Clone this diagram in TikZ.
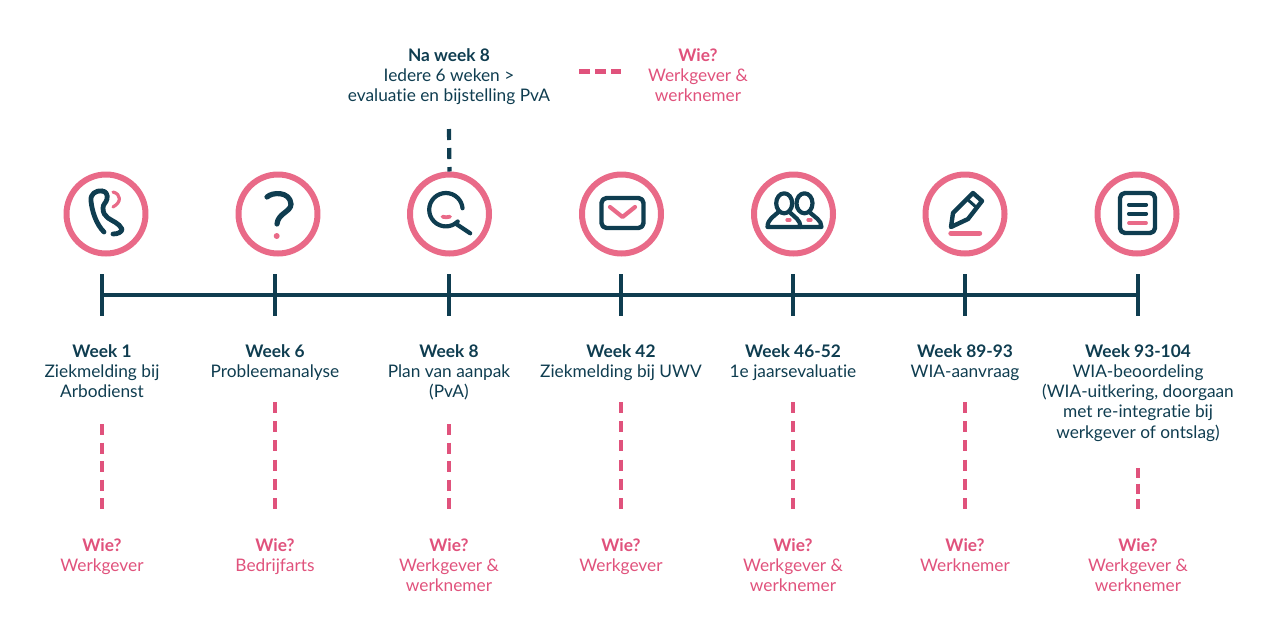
\documentclass[tikz,border=0pt]{standalone}
\usepackage{fontspec}
\setmainfont[Ligatures=NoCommon]{Lato}
\usetikzlibrary{calc,positioning}
\definecolor{navy}{HTML}{0F3D50}
\definecolor{rose}{HTML}{E0527C}
\definecolor{ring}{HTML}{E96A88}
\tikzset{
  timeline/.style={x=1pt,y=-1pt,line cap=butt,line join=round},
  ringnode/.style={circle,draw=ring,line width=6pt,minimum size=79pt,inner sep=0pt},
  weektext/.style={anchor=north,align=center,text=navy,font=\fontsize{17.3}{20.3}\selectfont,inner sep=0pt},
  whotext/.style={anchor=north,align=center,text=rose,font=\fontsize{17.3}{20.3}\selectfont,inner sep=0pt},
  axisline/.style={draw=navy,line width=3.2pt},
  pinkdash/.style={draw=rose,line width=4.2pt},
  navydash/.style={draw=navy,line width=4.2pt,dash pattern=on 11pt off 8pt},
  iconline/.style={draw=navy,line width=4.2pt,line cap=round,line join=round},
  iconpink/.style={draw=ring,line width=3.8pt,line cap=round,line join=round}
}
\begin{document}
\begin{tikzpicture}[timeline]
  \useasboundingbox (0,0) rectangle (1280,633);
  % axis
  \coordinate (T1) at (102,295);
  \coordinate (T2) at (275,295);
  \coordinate (T3) at (449,295);
  \coordinate (T4) at (621,295);
  \coordinate (T5) at (793,295);
  \coordinate (T6) at (965,295);
  \coordinate (T7) at (1138,295);
  \draw[axisline] (T1)--(T7);
  \foreach \t in {T1,T2,T3,T4,T5,T6,T7}{
    \draw[axisline] ($(\t)+(0,-21)$)--($(\t)+(0,21)$);
  }
  % rings
  \node[ringnode] (phone) at (106,214) {};
  \node[ringnode] (ask) at (278,214) {};
  \node[ringnode] (search) at (449.5,214) {};
  \node[ringnode] (mail) at (621.5,214) {};
  \node[ringnode] (people) at (793.5,214) {};
  \node[ringnode] (pen) at (965,214) {};
  \node[ringnode] (doc) at (1137,214) {};
  % icon shapes
  \begin{scope}[shift={(106,214)}]
    \draw[iconline,line width=4.8pt] (-4,-23) .. controls (-10,-24) and (-16,-20) .. (-15,-13)
      .. controls (-14,-3) and (-10,10) .. (-2,18);
    \draw[iconline,line width=4.8pt] (-4,-23) .. controls (0,-23) and (2,-19) .. (1,-15)
      .. controls (0,-11) and (-3,-10) .. (-3,-6) .. controls (-3,-1) and (-1,2) .. (2,4)
      .. controls (6,7) and (13,9) .. (16,15) .. controls (16,18) and (12,20) .. (7,20);
    \draw[iconpink,line width=3.2pt] (7,-22) .. controls (15,-20) and (16,-12) .. (7,-7);
  \end{scope}
  \begin{scope}[shift={(278,214)}]
    \draw[iconline,line width=5.2pt] (-11,-17) .. controls (-6,-22) and (12,-23) .. (13,-10)
      .. controls (13,-2) and (0,-1) .. (-1,10);
    \fill[ring] (-1.3,22) circle (3pt);
  \end{scope}
  \begin{scope}[shift={(449.5,214)}]
    \draw[iconline] (8.2,7.5) arc[start angle=45,end angle=355,radius=16.7];
    \draw[iconline] (6,9.5) -- (20.7,19.3);
    \draw[iconpink] (-7,2.7) .. controls (-5,3.5) and (-2,3.5) .. (0.5,2.7);
  \end{scope}
  \begin{scope}[shift={(621.5,214)}]
    \draw[iconline,line width=4.4pt,rounded corners=5pt] (-20,-16) rectangle (22,14);
    \draw[iconpink,line width=4.2pt] (-11.5,-7) -- (1,3) -- (13.5,-7);
  \end{scope}
  \begin{scope}[shift={(793.5,214)}]
    \draw[iconline] (-9.3,-10.7) ellipse[x radius=8,y radius=10];
    \draw[iconline] (11,-10.7) ellipse[x radius=8,y radius=10];
    \draw[iconline] (-15,-2) .. controls (-19,2) and (-26,5) .. (-26,13) -- (7,13)
      .. controls (7,6) and (1,3) .. (-3,-1);
    \draw[iconline] (7,13) -- (28,13) .. controls (28,6) and (21,3) .. (17,-1);
    \draw[iconpink,line width=3.2pt] (-6.5,6) -- (-3.5,6);
    \draw[iconpink,line width=3.2pt] (14.5,6) -- (17.5,6);
  \end{scope}
  \begin{scope}[shift={(965,214)}]
    \draw[iconline,line width=4.4pt] (-14,13) -- (-12,-1) -- (8,-21) -- (17,-13) -- (3,5) -- cycle;
    \draw[iconline,line width=3pt] (2,-15) -- (11,-7);
    \draw[iconpink,line width=5.4pt] (-14,19.3) -- (14.5,19.3);
  \end{scope}
  \begin{scope}[shift={(1137,214)}]
    \draw[iconline,line width=4.4pt,rounded corners=5pt] (-17,-21) rectangle (18,19);
    \draw[iconline] (-8,-9.3) -- (9,-9.3);
    \draw[iconline] (-8,-0.3) -- (9,-0.3);
    \draw[iconpink] (-8,9) -- (9,9);
  \end{scope}
  % top note
  \node[weektext] (note) at (449,48) {\textbf{Na week 8}\\Iedere 6 weken >\\evaluatie en bijstelling PvA};
  \node[whotext] (notewho) at (698,48) {\textbf{Wie?}\\Werkgever \&\\werknemer};
  \coordinate (keyA) at (579,71.5);
  \coordinate (keyB) at (621,71.5);
  \coordinate (noteend) at (449,129);
  \draw[pinkdash,dash pattern=on 10.5pt off 5.5pt] (keyA)--(keyB);
  \draw[navydash] (noteend)--(search.north);
  % week labels
  \node[weektext] (w1) at (102,344) {\textbf{Week 1}\\Ziekmelding bij\\Arbodienst};
  \node[weektext] (w2) at (275,344) {\textbf{Week 6}\\Probleemanalyse};
  \node[weektext] (w3) at (449,344) {\textbf{Week 8}\\Plan van aanpak\\(PvA)};
  \node[weektext] (w4) at (621,344) {\textbf{Week 42}\\Ziekmelding bij UWV};
  \node[weektext] (w5) at (793,344) {\textbf{Week 46-52}\\1e jaarsevaluatie};
  \node[weektext] (w6) at (965,344) {\textbf{Week 89-93}\\WIA-aanvraag};
  \node[weektext] (w7) at (1138,344) {\textbf{Week 93-104}\\WIA-beoordeling\\(WIA-uitkering, doorgaan\\met re-integratie bij\\werkgever of ontslag)};
  % who labels
  \node[whotext] (p1) at (102,538) {\textbf{Wie?}\\Werkgever};
  \node[whotext] (p2) at (275,538) {\textbf{Wie?}\\Bedrijfarts};
  \node[whotext] (p3) at (449,538) {\textbf{Wie?}\\Werkgever \&\\werknemer};
  \node[whotext] (p4) at (621,538) {\textbf{Wie?}\\Werkgever};
  \node[whotext] (p5) at (793,538) {\textbf{Wie?}\\Werkgever \&\\werknemer};
  \node[whotext] (p6) at (965,538) {\textbf{Wie?}\\Werknemer};
  \node[whotext] (p7) at (1138,538) {\textbf{Wie?}\\Werkgever \&\\werknemer};
  % dashes
  \foreach \n/\xpos/\ytop/\dashon/\dashoff in {1/102/424/11/7.5,2/275/402/11/8.2,3/449/424/11/7.5,4/621/402/11/8.2,5/793/402/11/8.2,6/965/402/11/8.2,7/1138/468/10/5.5}{
    \coordinate (d\n) at (\xpos,\ytop);
    \coordinate (e\n) at (\xpos,509);
    \draw[pinkdash,dash pattern=on \dashon pt off \dashoff pt] (d\n)--(e\n);
  }
\end{tikzpicture}
\end{document}
